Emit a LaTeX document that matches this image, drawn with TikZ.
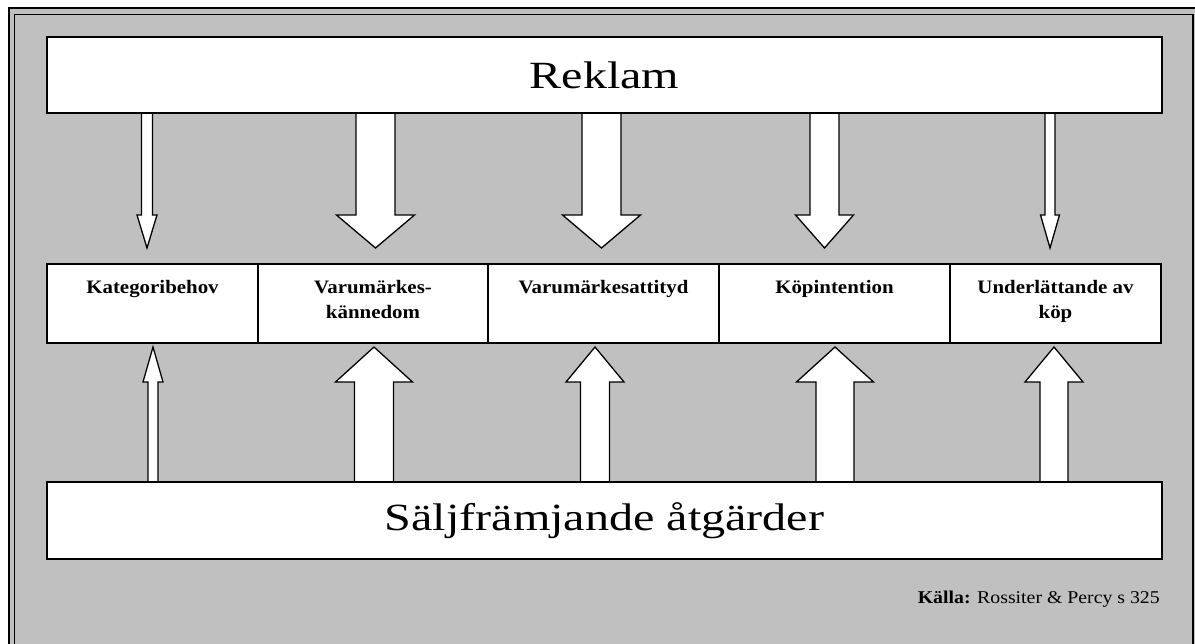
\documentclass[tikz,border=0pt]{standalone}
\usepackage{fontspec}
\setmainfont{Liberation Serif}[FakeStretch=1.1]
\newfontfamily\titleserif{Liberation Serif}[FakeStretch=1.25]
\definecolor{panel}{RGB}{192,192,192}
\tikzset{
  box/.style={draw, fill=white, line width=1.4pt, inner sep=0pt},
  wide/.style={box, minimum width=1115pt, minimum height=77pt, font=\titleserif\fontsize{38.5}{44}\selectfont},
  cell/.style={box, minimum height=79pt},
  celltext/.style={anchor=north, align=center, font=\fontsize{19}{25}\selectfont\bfseries, inner sep=0pt},
  blockarrow/.style={draw, fill=white, line width=1.3pt, line join=miter},
}
% block arrow: x, shaft half width, head half width, base y, head base y, tip y
\newcommand\arrowdown[6]{%
  \draw[blockarrow] ({#1-#2},#4) -- ({#1-#2},#5) -- ({#1-#3},#5) -- (#1,#6)
    -- ({#1+#3},#5) -- ({#1+#2},#5) -- ({#1+#2},#4);}
\begin{document}
\begin{tikzpicture}[x=1pt,y=-1pt]
\useasboundingbox (0,0) rectangle (1195,644);
\clip (0,0) rectangle (1195,644);
\fill[white] (0,0) rectangle (1195,644);
% double frame
\draw[line width=2pt, fill=panel] (8.5,8.5) rectangle (1215,665);
\draw[line width=1.5pt] (14.5,14.5) rectangle (1193,665);

% arrows from the advertising box
\arrowdown{147}{5.5}{10}{113}{215}{248}
\arrowdown{375.5}{19.5}{39}{113}{215}{248}
\arrowdown{601.5}{19.5}{39}{113}{215}{248}
\arrowdown{824.5}{14.5}{29}{113}{215}{248}
\arrowdown{1050}{5}{9.5}{113}{215}{248}

% arrows from the sales promotion box
\arrowdown{153}{5}{10}{482}{382}{347}
\arrowdown{374}{19.5}{38.5}{482}{382}{347}
\arrowdown{595}{14.5}{29}{482}{382}{347}
\arrowdown{835}{19}{38.5}{482}{382}{347}
\arrowdown{1054}{14}{29}{482}{382}{347}

% top and bottom boxes
\node[wide, minimum height=76pt] (reklam) at (604.5,75) {Reklam};
\node[wide] (salj) at (604.5,520.5) {Säljfrämjande åtgärder};

% middle row
\node[cell, minimum width=211pt] (c1) at (152.5,303.5) {};
\node[cell, minimum width=230pt] (c2) at (373,303.5) {};
\node[cell, minimum width=231pt] (c3) at (603.5,303.5) {};
\node[cell, minimum width=231pt] (c4) at (834.5,303.5) {};
\node[cell, minimum width=211pt] (c5) at (1055.5,303.5) {};

\node[celltext] (t1) at ([yshift=-17pt]c1.north) {Kategoribehov};
\node[celltext] (t2) at ([yshift=-17pt]c2.north) {Varumärkes-\\kännedom};
\node[celltext] (t3) at ([yshift=-17pt]c3.north) {Varumärkesattityd};
\node[celltext] (t4) at ([yshift=-17pt]c4.north) {Köpintention};
\node[celltext] (t5) at ([yshift=-17pt]c5.north) {Underlättande av\\köp};

% source line
\node[anchor=base east, font=\fontsize{18}{22}\selectfont, inner sep=0pt] (src) at (1160,603)
  {\textbf{Källa:} Rossiter \& Percy s 325};
\end{tikzpicture}
\end{document}
